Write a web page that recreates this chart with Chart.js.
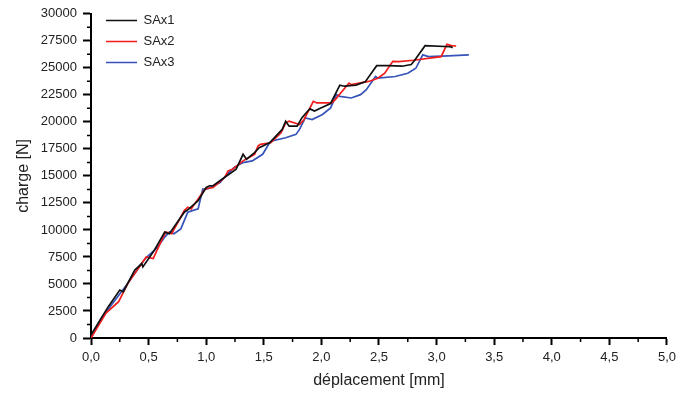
<!DOCTYPE html>
<html>
<head>
<meta charset="utf-8">
<script src="https://cdn.jsdelivr.net/npm/chart.js@4"></script>
<style>
  html, body { margin: 0; padding: 0; background: #fff; }
  #wrap { width: 681px; height: 394px; }
</style>
</head>
<body>
<div id="wrap"><canvas id="myChart" width="681" height="394"></canvas></div>
<script>
// series: déplacement [mm] / charge [N]
const seriesNames = ["SAx1", "SAx2", "SAx3"];
const seriesColors = ["#111111", "#f21c1c", "#3553b8"];

const sax1X = [0, 0.15, 0.25, 0.28, 0.38, 0.44, 0.45, 0.55, 0.64, 0.68, 0.81, 0.85, 0.93, 1.0, 1.03, 1.06, 1.14, 1.26, 1.32, 1.35, 1.42, 1.46, 1.55, 1.66, 1.69, 1.72, 1.79, 1.83, 1.88, 1.9, 1.94, 2.0, 2.08, 2.16, 2.2, 2.3, 2.38, 2.48, 2.58, 2.7, 2.78, 2.81, 2.9, 3.12, 3.14];
const sax1Y = [300, 2900, 4440, 4280, 6280, 6890, 6580, 8120, 9800, 9650, 11640, 11950, 12710, 13930, 14090, 14090, 14710, 15620, 17000, 16540, 17150, 17610, 18070, 19300, 20060, 19600, 19600, 20370, 20980, 21200, 21000, 21300, 21700, 23400, 23300, 23400, 23700, 25200, 25200, 25150, 25300, 25700, 27050, 26950, 26870];

const sax2X = [0, 0.13, 0.24, 0.32, 0.48, 0.54, 0.62, 0.65, 0.7, 0.81, 0.84, 0.87, 0.9, 0.99, 1.06, 1.16, 1.19, 1.23, 1.32, 1.42, 1.45, 1.47, 1.56, 1.65, 1.69, 1.72, 1.81, 1.85, 1.93, 1.96, 2.09, 2.12, 2.24, 2.26, 2.41, 2.49, 2.55, 2.62, 2.67, 2.8, 3.04, 3.09, 3.13, 3.17];
const sax2Y = [0, 2300, 3360, 5060, 7500, 7350, 9190, 9800, 9650, 11790, 12100, 11950, 12410, 13790, 13930, 14850, 15470, 15620, 16390, 17000, 17770, 17920, 18070, 18990, 19910, 20060, 19760, 20220, 21900, 21750, 21750, 22060, 23590, 23440, 23740, 24040, 24500, 25600, 25580, 25700, 26040, 27170, 27050, 27020];

const sax3X = [0, 0.09, 0.32, 0.47, 0.58, 0.64, 0.68, 0.72, 0.78, 0.84, 0.88, 0.93, 0.97, 1.01, 1.12, 1.17, 1.24, 1.32, 1.4, 1.49, 1.55, 1.57, 1.69, 1.78, 1.81, 1.86, 1.92, 2.01, 2.08, 2.13, 2.16, 2.26, 2.34, 2.39, 2.47, 2.49, 2.64, 2.75, 2.82, 2.88, 2.93, 3.1, 3.28];
const sax3Y = [0, 1840, 5060, 7350, 8420, 9340, 9800, 9650, 10100, 11640, 11790, 11950, 13790, 13790, 14390, 15010, 15770, 16230, 16390, 17000, 18070, 18230, 18530, 18840, 19300, 20370, 20220, 20680, 21290, 22520, 22360, 22210, 22520, 22980, 24200, 24040, 24200, 24500, 24960, 26200, 26040, 26100, 26200];

const xMin = 0, xMax = 5, xStep = 0.5;
const yMin = 0, yMax = 30000, yStep = 2500;

const xs = [sax1X, sax2X, sax3X];
const ys = [sax1Y, sax2Y, sax3Y];

const FONT = "'Liberation Sans', Arial, sans-serif";

function toPoints(xArr, yArr) {
  return xArr.map((x, i) => ({ x: x, y: yArr[i] }));
}

// short ticks between the labelled ones
const minorTicks = {
  id: "minorTicks",
  afterDraw(chart) {
    const c = chart.ctx;
    const sx = chart.scales.x, sy = chart.scales.y;
    c.save();
    c.strokeStyle = "#000";
    c.lineWidth = 1.5;
    c.beginPath();
    for (let v = xMin + xStep / 2; v < xMax; v += xStep) {
      const px = sx.getPixelForValue(v);
      c.moveTo(px, sx.top);
      c.lineTo(px, sx.top + 4);
    }
    for (let v = yMin + yStep / 2; v < yMax; v += yStep) {
      const py = sy.getPixelForValue(v);
      c.moveTo(sy.right, py);
      c.lineTo(sy.right - 4, py);
    }
    c.stroke();
    c.restore();
  }
};

// nudge the legend a little into the plot, like the original
const legendShift = {
  id: "legendShift",
  afterLayout(chart) {
    const l = chart.legend;
    if (!l) return;
    l.left += 7; l.right += 7;
    l.top += 6; l.bottom += 6;
  }
};

var ctx = document.getElementById("myChart").getContext("2d");
var myChart = new Chart(ctx, {
  type: "line",
  data: {
    datasets: seriesNames.map((name, i) => ({
      label: name,
      data: toPoints(xs[i], ys[i]),
      borderColor: seriesColors[i],
      backgroundColor: seriesColors[i],
      borderWidth: 1.7,
      pointRadius: 0,
      tension: 0,
      fill: false,
    })),
  },
  options: {
    responsive: false,
    animation: false,
    layout: { padding: { left: 10, right: 8, top: 12, bottom: 0 } },
    plugins: {
      tooltip: { enabled: false },
      legend: {
        position: "chartArea",
        align: "start",
        labels: {
          usePointStyle: true,
          pointStyle: "line",
          pointStyleWidth: 31,
          boxWidth: 31,
          color: "#222",
          font: { family: FONT, size: 13 },
          padding: 8,
        },
      },
    },
    scales: {
      x: {
        type: "linear",
        min: xMin,
        max: xMax,
        border: { display: true, color: "#000", width: 2 },
        grid: { drawOnChartArea: false, drawTicks: true, tickLength: 7, tickWidth: 2, color: "#000" },
        ticks: {
          stepSize: xStep,
          padding: 5,
          color: "#222",
          font: { family: FONT, size: 13 },
          maxRotation: 0,
          callback: (v) => v.toFixed(1).replace(".", ","),
        },
        title: {
          display: true,
          text: "déplacement [mm]",
          color: "#222",
          font: { family: FONT, size: 16 },
          padding: { top: 2, bottom: 4 },
        },
        afterFit: (scale) => { scale.height = 56; },
      },
      y: {
        min: yMin,
        max: yMax,
        border: { display: true, color: "#000", width: 2 },
        grid: { drawOnChartArea: false, drawTicks: true, tickLength: 8, tickWidth: 2, color: "#000" },
        ticks: {
          stepSize: yStep,
          padding: 6,
          color: "#222",
          font: { family: FONT, size: 13 },
          callback: (v) => String(v),
        },
        title: {
          display: true,
          text: "charge [N]",
          color: "#222",
          font: { family: FONT, size: 16 },
          padding: { top: 4, bottom: 4 },
        },
        afterFit: (scale) => { scale.width = 81; },
      },
    },
  },
  plugins: [minorTicks, legendShift],
});
</script>
</body>
</html>
